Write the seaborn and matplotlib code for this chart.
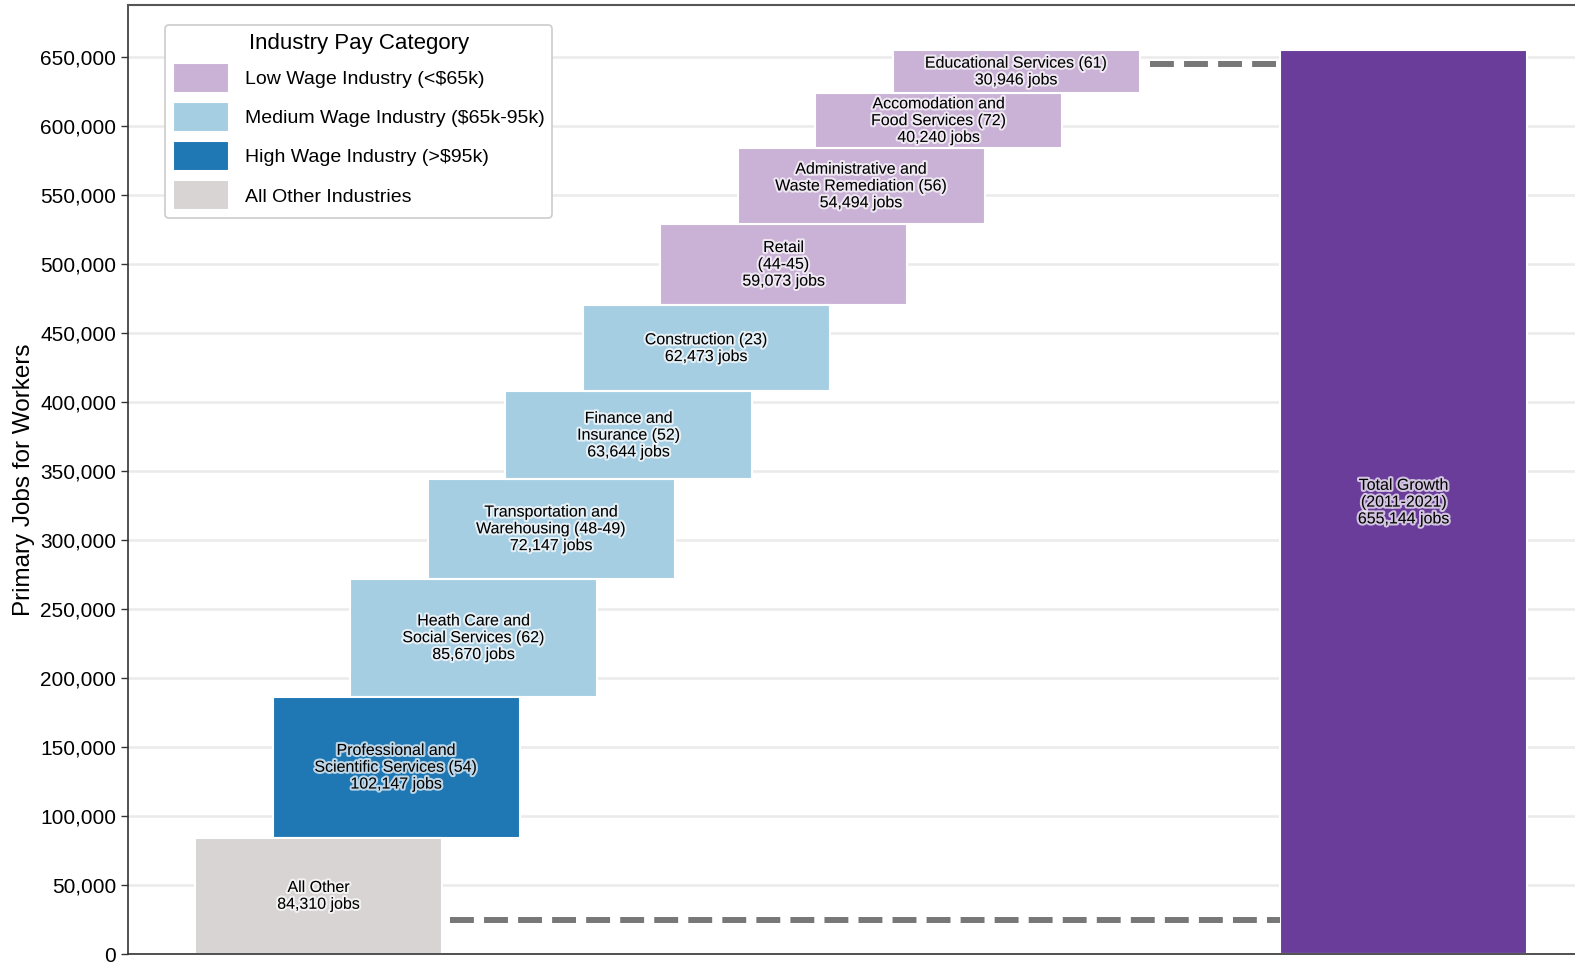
import numpy as np
import pandas as pd
import matplotlib

matplotlib.use("Agg")
import matplotlib.pyplot as plt
import matplotlib.patheffects as pe
from matplotlib.ticker import FuncFormatter
import seaborn as sns

# --- data ---
industries = [
    "All Other",
    "Professional and\nScientific Services (54)",
    "Heath Care and\nSocial Services (62)",
    "Transportation and\nWarehousing (48-49)",
    "Finance and\nInsurance (52)",
    "Construction (23)",
    "Retail\n(44-45)",
    "Administrative and\nWaste Remediation (56)",
    "Accomodation and\nFood Services (72)",
    "Educational Services (61)",
]
jobs = [84310, 102147, 85670, 72147, 63644, 62473, 59073, 54494, 40240, 30946]
pay_category = [
    "All Other Industries",
    "High Wage Industry (>$95k)",
    "Medium Wage Industry ($65k-95k)",
    "Medium Wage Industry ($65k-95k)",
    "Medium Wage Industry ($65k-95k)",
    "Medium Wage Industry ($65k-95k)",
    "Low Wage Industry (<$65k)",
    "Low Wage Industry (<$65k)",
    "Low Wage Industry (<$65k)",
    "Low Wage Industry (<$65k)",
]
total_name = "Total Growth\n(2011-2021)"
legend_title = "Industry Pay Category"
y_label = "Primary Jobs for Workers"
y_ticks = [0, 50000, 100000, 150000, 200000, 250000, 300000, 350000,
           400000, 450000, 500000, 550000, 600000, 650000]

category_colors = {
    "Low Wage Industry (<$65k)": "#cab2d6",
    "Medium Wage Industry ($65k-95k)": "#a6cee3",
    "High Wage Industry (>$95k)": "#1f78b4",
    "All Other Industries": "#d8d4d4",
    "Total": "#6a3d9a",
}

BAR_WIDTH = 3.19
TOTAL_GAP = 4

# --- build the waterfall table ---
total = int(sum(jobs))
n = len(jobs)
positions = list(range(n)) + [n - 1 + TOTAL_GAP + 1]
bottoms = list(np.concatenate([[0], np.cumsum(jobs)[:-1]])) + [0]
labels = [f"{name}\n{v:,} jobs" for name, v in zip(industries, jobs)]
labels.append(f"{total_name}\n{total:,} jobs")

df = pd.DataFrame({
    "pos": positions,
    "jobs": jobs + [total],
    "bottom": bottoms,
    "category": pay_category + ["Total"],
    "label": labels,
})

sns.set_theme(style="ticks")
plt.rcParams["font.family"] = ["Liberation Sans", "DejaVu Sans"]

fig = plt.figure(figsize=(15.75, 9.63), dpi=100)
ax = fig.add_axes([128 / 1575, 9 / 963, 1 - 128 / 1575, 949 / 963])

sns.barplot(
    data=df, x="pos", y="jobs", hue="category",
    hue_order=list(category_colors), palette=category_colors,
    saturation=1, native_scale=True, dodge=False, width=BAR_WIDTH,
    errorbar=None, edgecolor="white", linewidth=1.5, zorder=2, ax=ax,
)

# lift every bar onto its running total
for patch in ax.patches:
    cx = patch.get_x() + patch.get_width() / 2
    row = df.iloc[(df["pos"] - cx).abs().argmin()]
    patch.set_y(row["bottom"])

halo = [pe.withStroke(linewidth=3, foreground=(1, 1, 1, 0.7))]
for _, row in df.iterrows():
    ax.text(row["pos"], row["bottom"] + row["jobs"] / 2, row["label"],
            ha="center", va="center", fontsize=11.5, linespacing=1.15,
            color="black", path_effects=halo, zorder=4)

# dashed connectors to the total bar
half = BAR_WIDTH / 2
dash = (0, (4, 1.7))
ax.hlines(25000, positions[0] + half + 0.1, positions[-1] - half,
          colors="#777777", linestyles=dash, linewidth=4.3, zorder=3)
ax.hlines(total - 10000, positions[n - 1] + half + 0.13, positions[-1] - half - 0.05,
          colors="#777777", linestyles=dash, linewidth=4.3, zorder=3)

# legend without the total bar
old = ax.get_legend()
handles = [h for h, t in zip(old.legend_handles, old.get_texts()) if t.get_text() != "Total"]
names = [t.get_text() for t in old.get_texts() if t.get_text() != "Total"]
old.remove()
leg = ax.legend(handles, names, title=legend_title, loc="upper left",
                bbox_to_anchor=(0.0256, 0.979), borderaxespad=0, fontsize=14,
                title_fontsize=16, handlelength=2.9, handleheight=2.0,
                handletextpad=0.8, labelspacing=0.47, borderpad=0.4,
                frameon=True, fancybox=True, edgecolor="#cccccc", framealpha=1)
leg.get_frame().set_linewidth(1.2)
for t in leg.get_texts():
    t.set_color("black")
leg.get_title().set_color("black")

# axes styling
ax.set_xlim(-2.46, 16.21)
ax.set_ylim(0, total * 1.05)
ax.set_yticks(y_ticks)
ax.yaxis.set_major_formatter(FuncFormatter(lambda v, _: f"{v:,.0f}"))
ax.tick_params(axis="y", labelsize=15, length=5, width=1, color="#333333",
               labelcolor="black")
ax.set_xticks([])
ax.set_xlabel("")
ax.set_ylabel(y_label, fontsize=17.5, color="black")
ax.grid(axis="y", color="#ebebeb", linewidth=1.8, zorder=0)
ax.set_axisbelow(True)

ax.spines["right"].set_visible(False)
ax.spines["top"].set_color("#555555")
ax.spines["top"].set_linewidth(1.5)
for side in ("left", "bottom"):
    ax.spines[side].set_color("#333333")
    ax.spines[side].set_linewidth(1.2)

fig.savefig("out.png", dpi=100)
